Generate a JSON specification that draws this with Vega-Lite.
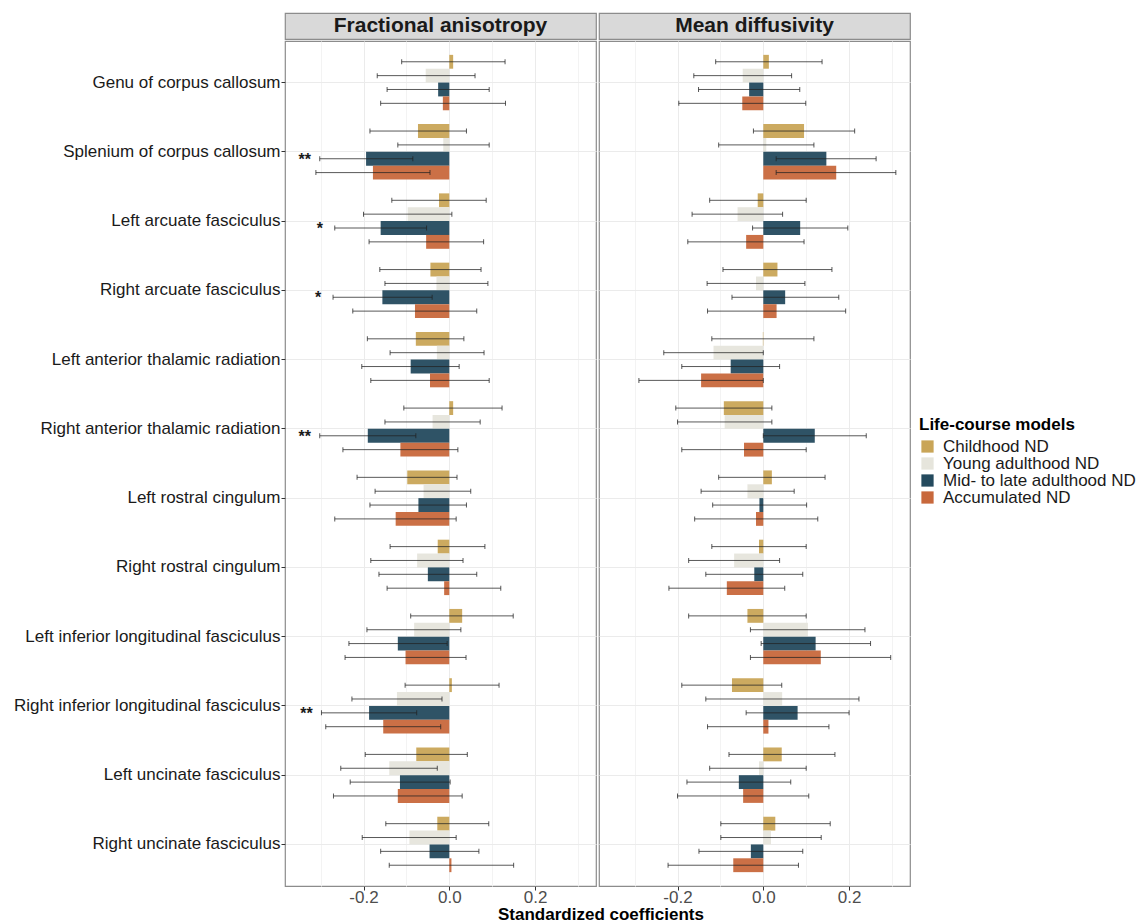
{
  "$schema": "https://vega.github.io/schema/vega-lite/v6.json",
  "padding": {"left": 0, "top": 12, "right": 0, "bottom": 0},
  "background": "white",
  "datasets": {
    "coef": [
      {"m":"FA","r":"Genu of corpus callosum","g":"Childhood ND","est":0.009,"lo":-0.111,"hi":0.13,"sig":""},
      {"m":"FA","r":"Genu of corpus callosum","g":"Young adulthood ND","est":-0.055,"lo":-0.168,"hi":0.06,"sig":""},
      {"m":"FA","r":"Genu of corpus callosum","g":"Mid- to late adulthood ND","est":-0.026,"lo":-0.145,"hi":0.093,"sig":""},
      {"m":"FA","r":"Genu of corpus callosum","g":"Accumulated ND","est":-0.015,"lo":-0.16,"hi":0.131,"sig":""},
      {"m":"FA","r":"Splenium of corpus callosum","g":"Childhood ND","est":-0.073,"lo":-0.185,"hi":0.04,"sig":""},
      {"m":"FA","r":"Splenium of corpus callosum","g":"Young adulthood ND","est":-0.014,"lo":-0.12,"hi":0.093,"sig":""},
      {"m":"FA","r":"Splenium of corpus callosum","g":"Mid- to late adulthood ND","est":-0.194,"lo":-0.302,"hi":-0.085,"sig":"**"},
      {"m":"FA","r":"Splenium of corpus callosum","g":"Accumulated ND","est":-0.178,"lo":-0.311,"hi":-0.045,"sig":""},
      {"m":"FA","r":"Left arcuate fasciculus","g":"Childhood ND","est":-0.024,"lo":-0.134,"hi":0.086,"sig":""},
      {"m":"FA","r":"Left arcuate fasciculus","g":"Young adulthood ND","est":-0.097,"lo":-0.2,"hi":0.006,"sig":""},
      {"m":"FA","r":"Left arcuate fasciculus","g":"Mid- to late adulthood ND","est":-0.16,"lo":-0.267,"hi":-0.053,"sig":"*"},
      {"m":"FA","r":"Left arcuate fasciculus","g":"Accumulated ND","est":-0.054,"lo":-0.187,"hi":0.08,"sig":""},
      {"m":"FA","r":"Right arcuate fasciculus","g":"Childhood ND","est":-0.044,"lo":-0.162,"hi":0.074,"sig":""},
      {"m":"FA","r":"Right arcuate fasciculus","g":"Young adulthood ND","est":-0.03,"lo":-0.15,"hi":0.09,"sig":""},
      {"m":"FA","r":"Right arcuate fasciculus","g":"Mid- to late adulthood ND","est":-0.156,"lo":-0.271,"hi":-0.04,"sig":"*"},
      {"m":"FA","r":"Right arcuate fasciculus","g":"Accumulated ND","est":-0.08,"lo":-0.225,"hi":0.064,"sig":""},
      {"m":"FA","r":"Left anterior thalamic radiation","g":"Childhood ND","est":-0.078,"lo":-0.191,"hi":0.034,"sig":""},
      {"m":"FA","r":"Left anterior thalamic radiation","g":"Young adulthood ND","est":-0.029,"lo":-0.138,"hi":0.081,"sig":""},
      {"m":"FA","r":"Left anterior thalamic radiation","g":"Mid- to late adulthood ND","est":-0.09,"lo":-0.204,"hi":0.023,"sig":""},
      {"m":"FA","r":"Left anterior thalamic radiation","g":"Accumulated ND","est":-0.045,"lo":-0.183,"hi":0.093,"sig":""},
      {"m":"FA","r":"Right anterior thalamic radiation","g":"Childhood ND","est":0.009,"lo":-0.106,"hi":0.123,"sig":""},
      {"m":"FA","r":"Right anterior thalamic radiation","g":"Young adulthood ND","est":-0.039,"lo":-0.15,"hi":0.072,"sig":""},
      {"m":"FA","r":"Right anterior thalamic radiation","g":"Mid- to late adulthood ND","est":-0.19,"lo":-0.302,"hi":-0.078,"sig":"**"},
      {"m":"FA","r":"Right anterior thalamic radiation","g":"Accumulated ND","est":-0.114,"lo":-0.248,"hi":0.02,"sig":""},
      {"m":"FA","r":"Left rostral cingulum","g":"Childhood ND","est":-0.098,"lo":-0.215,"hi":0.018,"sig":""},
      {"m":"FA","r":"Left rostral cingulum","g":"Young adulthood ND","est":-0.06,"lo":-0.173,"hi":0.05,"sig":""},
      {"m":"FA","r":"Left rostral cingulum","g":"Mid- to late adulthood ND","est":-0.072,"lo":-0.185,"hi":0.04,"sig":""},
      {"m":"FA","r":"Left rostral cingulum","g":"Accumulated ND","est":-0.125,"lo":-0.267,"hi":0.016,"sig":""},
      {"m":"FA","r":"Right rostral cingulum","g":"Childhood ND","est":-0.027,"lo":-0.138,"hi":0.083,"sig":""},
      {"m":"FA","r":"Right rostral cingulum","g":"Young adulthood ND","est":-0.075,"lo":-0.183,"hi":0.032,"sig":""},
      {"m":"FA","r":"Right rostral cingulum","g":"Mid- to late adulthood ND","est":-0.05,"lo":-0.164,"hi":0.064,"sig":""},
      {"m":"FA","r":"Right rostral cingulum","g":"Accumulated ND","est":-0.012,"lo":-0.145,"hi":0.12,"sig":""},
      {"m":"FA","r":"Left inferior longitudinal fasciculus","g":"Childhood ND","est":0.03,"lo":-0.09,"hi":0.149,"sig":""},
      {"m":"FA","r":"Left inferior longitudinal fasciculus","g":"Young adulthood ND","est":-0.082,"lo":-0.192,"hi":0.027,"sig":""},
      {"m":"FA","r":"Left inferior longitudinal fasciculus","g":"Mid- to late adulthood ND","est":-0.12,"lo":-0.234,"hi":-0.005,"sig":""},
      {"m":"FA","r":"Left inferior longitudinal fasciculus","g":"Accumulated ND","est":-0.102,"lo":-0.243,"hi":0.039,"sig":""},
      {"m":"FA","r":"Right inferior longitudinal fasciculus","g":"Childhood ND","est":0.006,"lo":-0.103,"hi":0.116,"sig":""},
      {"m":"FA","r":"Right inferior longitudinal fasciculus","g":"Young adulthood ND","est":-0.122,"lo":-0.227,"hi":-0.017,"sig":""},
      {"m":"FA","r":"Right inferior longitudinal fasciculus","g":"Mid- to late adulthood ND","est":-0.187,"lo":-0.298,"hi":-0.076,"sig":"**"},
      {"m":"FA","r":"Right inferior longitudinal fasciculus","g":"Accumulated ND","est":-0.154,"lo":-0.288,"hi":-0.02,"sig":""},
      {"m":"FA","r":"Left uncinate fasciculus","g":"Childhood ND","est":-0.077,"lo":-0.196,"hi":0.042,"sig":""},
      {"m":"FA","r":"Left uncinate fasciculus","g":"Young adulthood ND","est":-0.14,"lo":-0.253,"hi":-0.028,"sig":""},
      {"m":"FA","r":"Left uncinate fasciculus","g":"Mid- to late adulthood ND","est":-0.115,"lo":-0.231,"hi":0.002,"sig":""},
      {"m":"FA","r":"Left uncinate fasciculus","g":"Accumulated ND","est":-0.12,"lo":-0.27,"hi":0.03,"sig":""},
      {"m":"FA","r":"Right uncinate fasciculus","g":"Childhood ND","est":-0.028,"lo":-0.148,"hi":0.092,"sig":""},
      {"m":"FA","r":"Right uncinate fasciculus","g":"Young adulthood ND","est":-0.093,"lo":-0.203,"hi":0.016,"sig":""},
      {"m":"FA","r":"Right uncinate fasciculus","g":"Mid- to late adulthood ND","est":-0.046,"lo":-0.16,"hi":0.069,"sig":""},
      {"m":"FA","r":"Right uncinate fasciculus","g":"Accumulated ND","est":0.005,"lo":-0.14,"hi":0.15,"sig":""},
      {"m":"MD","r":"Genu of corpus callosum","g":"Childhood ND","est":0.013,"lo":-0.111,"hi":0.137,"sig":""},
      {"m":"MD","r":"Genu of corpus callosum","g":"Young adulthood ND","est":-0.048,"lo":-0.162,"hi":0.066,"sig":""},
      {"m":"MD","r":"Genu of corpus callosum","g":"Mid- to late adulthood ND","est":-0.033,"lo":-0.151,"hi":0.085,"sig":""},
      {"m":"MD","r":"Genu of corpus callosum","g":"Accumulated ND","est":-0.049,"lo":-0.197,"hi":0.099,"sig":""},
      {"m":"MD","r":"Splenium of corpus callosum","g":"Childhood ND","est":0.095,"lo":-0.023,"hi":0.213,"sig":""},
      {"m":"MD","r":"Splenium of corpus callosum","g":"Young adulthood ND","est":0.007,"lo":-0.104,"hi":0.118,"sig":""},
      {"m":"MD","r":"Splenium of corpus callosum","g":"Mid- to late adulthood ND","est":0.147,"lo":0.03,"hi":0.263,"sig":""},
      {"m":"MD","r":"Splenium of corpus callosum","g":"Accumulated ND","est":0.17,"lo":0.03,"hi":0.309,"sig":""},
      {"m":"MD","r":"Left arcuate fasciculus","g":"Childhood ND","est":-0.013,"lo":-0.125,"hi":0.1,"sig":""},
      {"m":"MD","r":"Left arcuate fasciculus","g":"Young adulthood ND","est":-0.06,"lo":-0.166,"hi":0.045,"sig":""},
      {"m":"MD","r":"Left arcuate fasciculus","g":"Mid- to late adulthood ND","est":0.086,"lo":-0.025,"hi":0.197,"sig":""},
      {"m":"MD","r":"Left arcuate fasciculus","g":"Accumulated ND","est":-0.04,"lo":-0.176,"hi":0.095,"sig":""},
      {"m":"MD","r":"Right arcuate fasciculus","g":"Childhood ND","est":0.033,"lo":-0.094,"hi":0.16,"sig":""},
      {"m":"MD","r":"Right arcuate fasciculus","g":"Young adulthood ND","est":-0.017,"lo":-0.131,"hi":0.097,"sig":""},
      {"m":"MD","r":"Right arcuate fasciculus","g":"Mid- to late adulthood ND","est":0.051,"lo":-0.073,"hi":0.176,"sig":""},
      {"m":"MD","r":"Right arcuate fasciculus","g":"Accumulated ND","est":0.031,"lo":-0.13,"hi":0.192,"sig":""},
      {"m":"MD","r":"Left anterior thalamic radiation","g":"Childhood ND","est":-0.001,"lo":-0.12,"hi":0.118,"sig":""},
      {"m":"MD","r":"Left anterior thalamic radiation","g":"Young adulthood ND","est":-0.116,"lo":-0.232,"hi":0.0,"sig":""},
      {"m":"MD","r":"Left anterior thalamic radiation","g":"Mid- to late adulthood ND","est":-0.076,"lo":-0.19,"hi":0.038,"sig":""},
      {"m":"MD","r":"Left anterior thalamic radiation","g":"Accumulated ND","est":-0.145,"lo":-0.29,"hi":0.0,"sig":""},
      {"m":"MD","r":"Right anterior thalamic radiation","g":"Childhood ND","est":-0.092,"lo":-0.204,"hi":0.02,"sig":""},
      {"m":"MD","r":"Right anterior thalamic radiation","g":"Young adulthood ND","est":-0.09,"lo":-0.2,"hi":0.02,"sig":""},
      {"m":"MD","r":"Right anterior thalamic radiation","g":"Mid- to late adulthood ND","est":0.12,"lo":0.0,"hi":0.24,"sig":""},
      {"m":"MD","r":"Right anterior thalamic radiation","g":"Accumulated ND","est":-0.045,"lo":-0.19,"hi":0.1,"sig":""},
      {"m":"MD","r":"Left rostral cingulum","g":"Childhood ND","est":0.02,"lo":-0.104,"hi":0.144,"sig":""},
      {"m":"MD","r":"Left rostral cingulum","g":"Young adulthood ND","est":-0.037,"lo":-0.145,"hi":0.072,"sig":""},
      {"m":"MD","r":"Left rostral cingulum","g":"Mid- to late adulthood ND","est":-0.009,"lo":-0.118,"hi":0.101,"sig":""},
      {"m":"MD","r":"Left rostral cingulum","g":"Accumulated ND","est":-0.017,"lo":-0.16,"hi":0.127,"sig":""},
      {"m":"MD","r":"Right rostral cingulum","g":"Childhood ND","est":-0.01,"lo":-0.12,"hi":0.1,"sig":""},
      {"m":"MD","r":"Right rostral cingulum","g":"Young adulthood ND","est":-0.068,"lo":-0.174,"hi":0.038,"sig":""},
      {"m":"MD","r":"Right rostral cingulum","g":"Mid- to late adulthood ND","est":-0.021,"lo":-0.134,"hi":0.092,"sig":""},
      {"m":"MD","r":"Right rostral cingulum","g":"Accumulated ND","est":-0.085,"lo":-0.22,"hi":0.05,"sig":""},
      {"m":"MD","r":"Left inferior longitudinal fasciculus","g":"Childhood ND","est":-0.037,"lo":-0.174,"hi":0.1,"sig":""},
      {"m":"MD","r":"Left inferior longitudinal fasciculus","g":"Young adulthood ND","est":0.104,"lo":-0.03,"hi":0.237,"sig":""},
      {"m":"MD","r":"Left inferior longitudinal fasciculus","g":"Mid- to late adulthood ND","est":0.122,"lo":-0.005,"hi":0.25,"sig":""},
      {"m":"MD","r":"Left inferior longitudinal fasciculus","g":"Accumulated ND","est":0.134,"lo":-0.03,"hi":0.297,"sig":""},
      {"m":"MD","r":"Right inferior longitudinal fasciculus","g":"Childhood ND","est":-0.073,"lo":-0.19,"hi":0.043,"sig":""},
      {"m":"MD","r":"Right inferior longitudinal fasciculus","g":"Young adulthood ND","est":0.044,"lo":-0.134,"hi":0.223,"sig":""},
      {"m":"MD","r":"Right inferior longitudinal fasciculus","g":"Mid- to late adulthood ND","est":0.08,"lo":-0.04,"hi":0.2,"sig":""},
      {"m":"MD","r":"Right inferior longitudinal fasciculus","g":"Accumulated ND","est":0.012,"lo":-0.13,"hi":0.153,"sig":""},
      {"m":"MD","r":"Left uncinate fasciculus","g":"Childhood ND","est":0.043,"lo":-0.08,"hi":0.167,"sig":""},
      {"m":"MD","r":"Left uncinate fasciculus","g":"Young adulthood ND","est":-0.01,"lo":-0.125,"hi":0.1,"sig":""},
      {"m":"MD","r":"Left uncinate fasciculus","g":"Mid- to late adulthood ND","est":-0.057,"lo":-0.178,"hi":0.064,"sig":""},
      {"m":"MD","r":"Left uncinate fasciculus","g":"Accumulated ND","est":-0.047,"lo":-0.2,"hi":0.106,"sig":""},
      {"m":"MD","r":"Right uncinate fasciculus","g":"Childhood ND","est":0.028,"lo":-0.099,"hi":0.156,"sig":""},
      {"m":"MD","r":"Right uncinate fasciculus","g":"Young adulthood ND","est":0.018,"lo":-0.099,"hi":0.135,"sig":""},
      {"m":"MD","r":"Right uncinate fasciculus","g":"Mid- to late adulthood ND","est":-0.029,"lo":-0.15,"hi":0.092,"sig":""},
      {"m":"MD","r":"Right uncinate fasciculus","g":"Accumulated ND","est":-0.07,"lo":-0.222,"hi":0.082,"sig":""}
    ]
  },
  "title": {"text": "Standardized coefficients", "orient": "bottom", "anchor": "start", "frame": "group", "align": "center", "dx": 316, "offset": 1, "fontSize": 17, "fontWeight": "bold", "color": "#000000", "font": "Liberation Sans"},
  "spacing": 1,
  "resolve": {"scale": {"color": "shared"}, "legend": {"color": "shared"}},
  "hconcat": [
    {
      "spacing": 0,
      "vconcat": [
        {
          "width": 311, "height": 26,
          "view": {"fill": "#D9D9D9", "stroke": "#8C8C8C", "strokeWidth": 1.2},
          "data": {"values": [{"label": "Fractional anisotropy"}]},
          "mark": {"type": "text", "fontSize": 21, "fontWeight": "bold", "color": "#1A1A1A", "baseline": "middle"},
          "encoding": {
            "y": {"field": "label", "type": "nominal", "axis": {"labels": false, "ticks": false, "domain": false, "grid": false, "title": null, "minExtent": 284, "maxExtent": 284}},
            "text": {"field": "label"}
          }
        },
        {
          "width": 311, "height": 845,
          "view": {"stroke": "#8C8C8C", "strokeWidth": 1.2},
          "data": {"name": "coef"},
          "transform": [{"filter": "datum.m == 'FA'"}],
          "encoding": {
            "y": {"field": "r", "type": "nominal", "sort": null,
              "scale": {"paddingInner": 0.2, "paddingOuter": 0.2},
              "axis": {"title": null, "labelFontSize": 17, "labelColor": "#1A1A1A", "labelLimit": 400, "tickSize": 4, "tickColor": "#333333", "domain": false, "grid": true, "gridColor": "#EBEBEB", "bandPosition": 0.5, "labelPadding": 1, "minExtent": 284, "maxExtent": 284}},
            "yOffset": {"field": "g", "type": "nominal", "scale": {"domain": ["Childhood ND", "Young adulthood ND", "Mid- to late adulthood ND", "Accumulated ND"], "paddingInner": 0, "paddingOuter": 0}}
          },
          "layer": [
            {
              "mark": {"type": "bar", "opacity": 0.95},
              "encoding": {
                "x": {"field": "est", "type": "quantitative", "scale": {"domain": [-0.383, 0.342], "nice": false, "zero": false},
                  "axis": {"title": null, "values": [-0.3, -0.2, -0.1, 0, 0.1, 0.2, 0.3], "labelExpr": "datum.value == 0 ? '0.0' : (datum.value == 0.2 ? '0.2' : (datum.value == -0.2 ? '-0.2' : ''))", "tickOpacity": {"condition": {"test": "abs(datum.value) == 0.1 || abs(datum.value) == 0.3", "value": 0}, "value": 1}, "gridColor": {"condition": {"test": "abs(datum.value) == 0.1 || abs(datum.value) == 0.3", "value": "#F3F3F3"}, "value": "#EBEBEB"}}},
                "x2": {"datum": 0},
                "color": {"field": "g", "type": "nominal",
                  "scale": {"domain": ["Childhood ND", "Young adulthood ND", "Mid- to late adulthood ND", "Accumulated ND"], "range": ["#C9A557", "#E6E5DC", "#244A5E", "#C8683C"]},
                  "legend": {"title": "Life-course models", "orient": "none", "legendX": 634, "legendY": 404, "titleFontSize": 17, "titleFontWeight": "bold", "titleColor": "#000000", "labelFontSize": 17, "labelColor": "#1A1A1A", "labelLimit": 400, "symbolType": "square", "symbolSize": 150, "symbolStrokeWidth": 0, "symbolOpacity": 1, "rowPadding": -1, "titlePadding": 4, "labelOffset": 7, "padding": 0}}
              }
            },
            {
              "mark": {"type": "rule", "color": "#222222", "opacity": 0.75, "strokeWidth": 1},
              "encoding": {"x": {"field": "lo", "type": "quantitative", "title": null}, "x2": {"field": "hi"}}
            },
            {
              "mark": {"type": "tick", "color": "#222222", "opacity": 0.75, "size": 5, "thickness": 1},
              "encoding": {"x": {"field": "lo", "type": "quantitative", "title": null}}
            },
            {
              "mark": {"type": "tick", "color": "#222222", "opacity": 0.75, "size": 5, "thickness": 1},
              "encoding": {"x": {"field": "hi", "type": "quantitative", "title": null}}
            },
            {
              "transform": [{"filter": "datum.sig != ''"}],
              "mark": {"type": "text", "fontSize": 16, "fontWeight": "bold", "color": "#1A1A1A", "align": "center", "baseline": "middle", "dx": -15, "dy": 1},
              "encoding": {"x": {"field": "lo", "type": "quantitative", "title": null}, "text": {"field": "sig"}}
            }
          ]
        }
      ]
    },
    {
      "spacing": 0,
      "vconcat": [
        {
          "width": 311, "height": 26,
          "view": {"fill": "#D9D9D9", "stroke": "#8C8C8C", "strokeWidth": 1.2},
          "data": {"values": [{"label": "Mean diffusivity"}]},
          "mark": {"type": "text", "fontSize": 21, "fontWeight": "bold", "color": "#1A1A1A", "baseline": "middle"},
          "encoding": {
            "y": {"field": "label", "type": "nominal", "axis": null},
            "text": {"field": "label"}
          }
        },
        {
          "width": 311, "height": 845,
          "view": {"stroke": "#8C8C8C", "strokeWidth": 1.2},
          "data": {"name": "coef"},
          "transform": [{"filter": "datum.m == 'MD'"}],
          "encoding": {
            "y": {"field": "r", "type": "nominal", "sort": null,
              "scale": {"paddingInner": 0.2, "paddingOuter": 0.2},
              "axis": {"title": null, "labels": false, "ticks": false, "domain": false, "grid": true, "gridColor": "#EBEBEB", "bandPosition": 0.5, "minExtent": 0, "maxExtent": 0}},
            "yOffset": {"field": "g", "type": "nominal", "scale": {"domain": ["Childhood ND", "Young adulthood ND", "Mid- to late adulthood ND", "Accumulated ND"], "paddingInner": 0, "paddingOuter": 0}}
          },
          "layer": [
            {
              "mark": {"type": "bar", "opacity": 0.95},
              "encoding": {
                "x": {"field": "est", "type": "quantitative", "scale": {"domain": [-0.383, 0.342], "nice": false, "zero": false},
                  "axis": {"title": null, "values": [-0.3, -0.2, -0.1, 0, 0.1, 0.2, 0.3], "labelExpr": "datum.value == 0 ? '0.0' : (datum.value == 0.2 ? '0.2' : (datum.value == -0.2 ? '-0.2' : ''))", "tickOpacity": {"condition": {"test": "abs(datum.value) == 0.1 || abs(datum.value) == 0.3", "value": 0}, "value": 1}, "gridColor": {"condition": {"test": "abs(datum.value) == 0.1 || abs(datum.value) == 0.3", "value": "#F3F3F3"}, "value": "#EBEBEB"}}},
                "x2": {"datum": 0},
                "color": {"field": "g", "type": "nominal",
                  "scale": {"domain": ["Childhood ND", "Young adulthood ND", "Mid- to late adulthood ND", "Accumulated ND"], "range": ["#C9A557", "#E6E5DC", "#244A5E", "#C8683C"]},
                  "legend": {"title": "Life-course models", "orient": "none", "legendX": 634, "legendY": 404, "titleFontSize": 17, "titleFontWeight": "bold", "titleColor": "#000000", "labelFontSize": 17, "labelColor": "#1A1A1A", "labelLimit": 400, "symbolType": "square", "symbolSize": 150, "symbolStrokeWidth": 0, "symbolOpacity": 1, "rowPadding": -1, "titlePadding": 4, "labelOffset": 7, "padding": 0}}
              }
            },
            {
              "mark": {"type": "rule", "color": "#222222", "opacity": 0.75, "strokeWidth": 1},
              "encoding": {"x": {"field": "lo", "type": "quantitative", "title": null}, "x2": {"field": "hi"}}
            },
            {
              "mark": {"type": "tick", "color": "#222222", "opacity": 0.75, "size": 5, "thickness": 1},
              "encoding": {"x": {"field": "lo", "type": "quantitative", "title": null}}
            },
            {
              "mark": {"type": "tick", "color": "#222222", "opacity": 0.75, "size": 5, "thickness": 1},
              "encoding": {"x": {"field": "hi", "type": "quantitative", "title": null}}
            }
          ]
        }
      ]
    }
  ],
  "config": {
    "font": "Liberation Sans",
    "axisX": {"labelFontSize": 17, "labelColor": "#4D4D4D", "tickSize": 4, "tickColor": "#333333", "domain": false, "grid": true, "labelPadding": -1},
    "axis": {"gridWidth": 1}
  }
}
